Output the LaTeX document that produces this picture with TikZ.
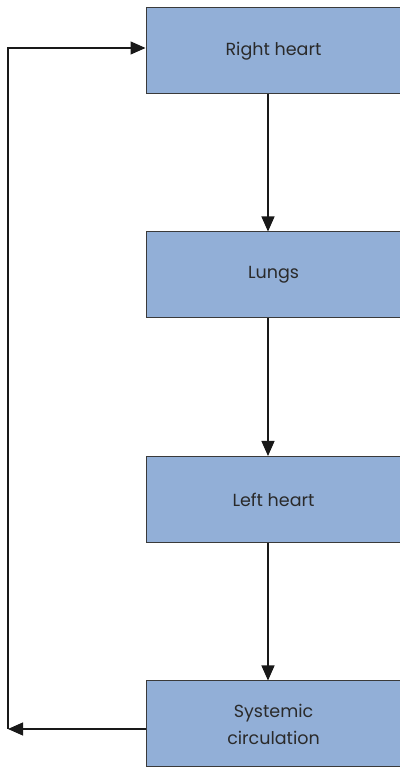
\documentclass[tikz,border=0pt]{standalone}
\usepackage{fontspec}
\setmainfont{Poppins}
\usetikzlibrary{arrows.meta}
\definecolor{boxfill}{HTML}{92AFD7}
\definecolor{boxline}{HTML}{3A3A3A}
\definecolor{txt}{HTML}{2A2A2A}
\begin{document}
\begin{tikzpicture}[x=1pt,y=1pt,
  stagebox/.style={rectangle, draw=boxline, line width=1pt, fill=boxfill,
    minimum width=255pt, minimum height=86pt, inner sep=0pt,
    font=\fontsize{17.5}{27}\selectfont, text=txt, align=center},
  arr/.style={draw=black!90, line width=1.2pt, -{Triangle[length=15pt,width=13pt]}},
  ln/.style={draw=black!90, line width=1.2pt}]
\useasboundingbox (0,0) rectangle (399,767);
\node[stagebox] (rh) at (273.5,716) {Right heart};
\node[stagebox] (lu) at (273.5,492) {Lungs};
\node[stagebox] (lh) at (273.5,267.5) {Left heart};
\node[stagebox] (sc) at (273.5,43) {Systemic\\circulation};
\coordinate (cb) at (8,38);
\coordinate (ct) at (8,719);
\draw[arr] ([xshift=-5.5pt]rh.south) -- ([xshift=-5.5pt]lu.north);
\draw[arr] ([xshift=-5.5pt]lu.south) -- ([xshift=-5.5pt]lh.north);
\draw[arr] ([xshift=-5.5pt]lh.south) -- ([xshift=-5.5pt]sc.north);
\draw[arr] ([yshift=-5pt]sc.west) -- (cb);
\draw[arr] (cb) -- (ct) -- ([yshift=3pt]rh.west);
\end{tikzpicture}
\end{document}
